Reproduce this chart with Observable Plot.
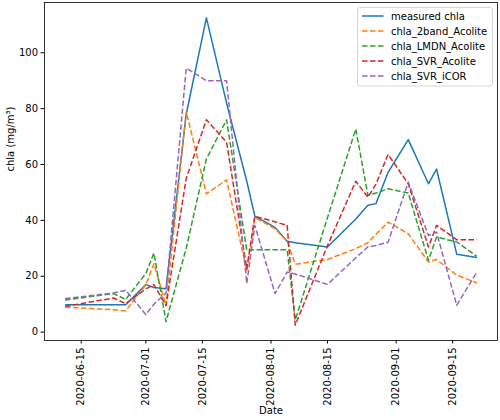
<!DOCTYPE html>
<html>
<head>
<meta charset="utf-8">
<script src="https://cdn.jsdelivr.net/npm/d3@7"></script>
<script src="https://cdn.jsdelivr.net/npm/@observablehq/plot@0.6"></script>
<style>
  html, body { margin: 0; padding: 0; background: white; }
  #chart { width: 500px; height: 420px; }
</style>
</head>
<body>
<div id="chart"></div>
<script>
const dates = ["2020-06-11","2020-06-23","2020-06-26","2020-07-01","2020-07-03","2020-07-06","2020-07-11","2020-07-16","2020-07-21","2020-07-26","2020-07-28","2020-08-02","2020-08-05","2020-08-07","2020-08-15","2020-08-22","2020-08-25","2020-08-27","2020-08-30","2020-09-04","2020-09-09","2020-09-11","2020-09-16","2020-09-21"];

const measuredChla   = [9.8,9.8,9.8,17,16,15.5,78,112.5,82,54,41.5,37.5,32.5,32,30.5,40.5,45.4,46,57.2,68.9,53.1,58.4,27.9,26.7];
const chla2bandAcol  = [9,8,7.6,17,24.5,9.5,78.9,49.5,54.5,22,41,37,32.5,24.3,26,29.9,32,35,39.4,35.2,25.1,26,20.4,17.6];
const chlaLMDNAcol   = [11.5,13.8,11.7,21,28.3,3.7,30,62,76,29.3,29.5,29.5,29.5,4.3,41,72.7,49,49.8,51.3,49.8,25.7,34,32.3,27.1];
const chlaSVRAcol    = [9.2,12.2,10.2,15.5,17,9.5,55,76,68,22.7,41.5,39.5,38.2,2.5,31,54,48.3,53,63.6,53.1,30.5,38.2,33.1,33.1];
const chlaSVRiCOR    = [12,14,15,6.3,10,14,94.5,90,90,17.4,38.2,13.8,21.5,20.8,17.1,26.6,30.5,31,32.2,53.7,34.6,35.8,9.6,21.5];

const seriesNames = ["measured chla","chla_2band_Acolite","chla_LMDN_Acolite","chla_SVR_Acolite","chla_SVR_iCOR"];
const seriesValues = [measuredChla, chla2bandAcol, chlaLMDNAcol, chlaSVRAcol, chlaSVRiCOR];
const seriesColors = ["#1f77b4","#ff7f0e","#2ca02c","#d62728","#9467bd"];
const seriesDashed = [false, true, true, true, true];

const xTickLabels = ["2020-06-15","2020-07-01","2020-07-15","2020-08-01","2020-08-15","2020-09-01","2020-09-15"];
const yTicks = [0,20,40,60,80,100];
const xLabel = "Date";
const yLabel = "chla (mg/m³)";

const parse = d3.utcParse("%Y-%m-%d");
const rows = seriesNames.flatMap((s, i) =>
  dates.map((d, j) => ({series: s, date: parse(d), value: seriesValues[i][j]})));

// matplotlib-like 5% margins
const tMin = d3.min(rows, d => d.date), tMax = d3.max(rows, d => d.date);
const tPad = (tMax - tMin) * 0.05;
const vMin = d3.min(rows, d => d.value), vMax = d3.max(rows, d => d.value);
const vPad = (vMax - vMin) * 0.05;

const lineMarks = seriesNames.map((s, i) =>
  Plot.line(rows.filter(r => r.series === s), {
    x: "date", y: "value",
    stroke: seriesColors[i], strokeWidth: 1.5,
    strokeDasharray: seriesDashed[i] ? "5.55,2.4" : null,
    strokeLinejoin: "round", strokeLinecap: "butt"
  }));

const chart = Plot.plot({
  width: 500, height: 420,
  marginLeft: 44, marginRight: 3, marginTop: 2, marginBottom: 80,
  style: {fontFamily: "DejaVu Sans", fontSize: "10px", background: "white", color: "black"},
  x: {type: "utc", domain: [new Date(+tMin - tPad), new Date(+tMax + tPad)]},
  y: {domain: [vMin - vPad, vMax + vPad]},
  marks: [
    ...lineMarks,
    Plot.frame({stroke: "black", strokeWidth: 0.8}),
    Plot.axisX({ticks: xTickLabels.map(parse), tickFormat: d3.utcFormat("%Y-%m-%d"), tickRotate: -90, tickSize: 3.5, tickPadding: 3.5, label: null, fontSize: 10}),
    Plot.axisY({ticks: yTicks, tickSize: 3.5, tickPadding: 3, label: null, fontSize: 10}),
    Plot.text([xLabel], {frameAnchor: "bottom", dy: 73, fontSize: 10, fill: "black"}),
    Plot.text([yLabel], {frameAnchor: "left", dx: -34, rotate: -90, fontSize: 10, fill: "black"})
  ]
});

// Legend inside the axes (upper right)
const svg = d3.select(chart);
const lg = svg.append("g").attr("font-family", "DejaVu Sans").attr("font-size", 10).attr("text-anchor", "start");
lg.append("rect").attr("x", 357.5).attr("y", 7.5).attr("width", 135).attr("height", 78.5)
  .attr("rx", 2.5).attr("fill", "white").attr("fill-opacity", 0.8)
  .attr("stroke", "#cccccc").attr("stroke-width", 0.8);
seriesNames.forEach((s, i) => {
  const y = 16 + i * 15;
  lg.append("line").attr("x1", 362).attr("x2", 383.5).attr("y1", y).attr("y2", y)
    .attr("stroke", seriesColors[i]).attr("stroke-width", 1.5)
    .attr("stroke-dasharray", seriesDashed[i] ? "5.55,2.4" : null);
  lg.append("text").attr("x", 391).attr("y", y).attr("dy", "0.35em")
    .attr("text-anchor", "start").attr("fill", "black").text(s);
});

document.getElementById("chart").appendChild(chart);
</script>
</body>
</html>
